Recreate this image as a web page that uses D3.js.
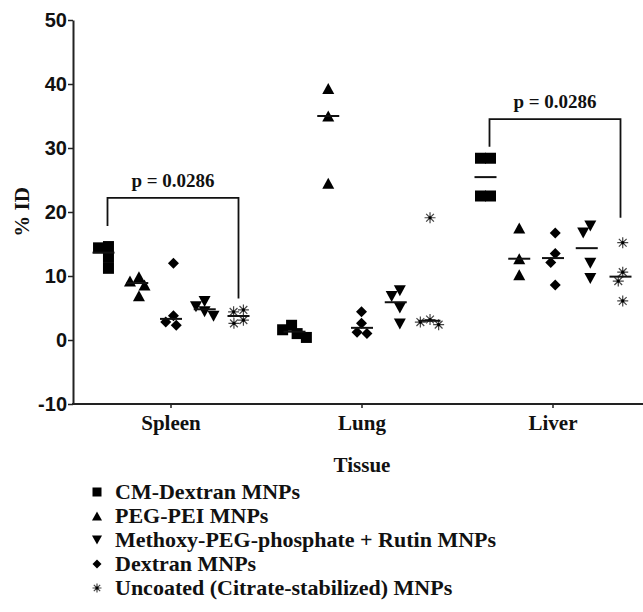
<!DOCTYPE html>
<html>
<head>
<meta charset="utf-8">
<script src="https://cdn.jsdelivr.net/npm/d3@7"></script>
<style>
    body { margin: 0; background: #fff; }
</style>
</head>
<body>
<div id="chart"></div>
<script>
// Tissues on the x axis and the five particle series (order inside each tissue group)
const tissues = ["Spleen", "Lung", "Liver"];
const seriesNames = [
    "CM-Dextran MNPs",
    "PEG-PEI MNPs",
    "Dextran MNPs",
    "Methoxy-PEG-phosphate + Rutin MNPs",
    "Uncoated (Citrate-stabilized) MNPs"
];
// legend lists them in another order
const legendOrder = [
    "CM-Dextran MNPs",
    "PEG-PEI MNPs",
    "Methoxy-PEG-phosphate + Rutin MNPs",
    "Dextran MNPs",
    "Uncoated (Citrate-stabilized) MNPs"
];
const seriesShapes = ["square", "triangle", "diamond", "triangleDown", "star"];

// % ID per animal, one array per tissue: [Spleen, Lung, Liver]
const cmDextran = [[14.6, 14.4, 12.9, 11.2], [2.3, 1.6, 1.0, 0.4], [28.4, 28.4, 22.5, 22.5]];
const pegPei = [[9.9, 9.2, 8.6, 6.9], [39.3, 35.0, 24.5], [17.5, 12.7, 10.2]];
const dextran = [[12.0, 3.8, 2.8, 2.3], [4.4, 2.6, 1.2, 1.0], [16.7, 13.5, 12.1, 8.6]];
const methoxyRutin = [[6.0, 5.2, 4.4, 3.7], [7.7, 6.8, 5.0, 2.5], [17.8, 16.7, 12.0, 9.6]];
const uncoated = [[4.7, 4.4, 3.1, 2.6], [19.1, 3.2, 2.8, 2.4], [15.2, 10.6, 9.2, 6.1]];
const seriesValues = [cmDextran, pegPei, dextran, methoxyRutin, uncoated];

const yTicks = [-10, 0, 10, 20, 30, 40, 50];

// significance brackets (values in % ID units)
const bracketTissues = ["Spleen", "Liver"];
const bracketTop = [22.2, 34.5];
const bracketLeftEnd = [17.8, 30.2];
const bracketRightEnd = [6.5, 19.1];
const bracketLabels = ["p = 0.0286", "p = 0.0286"];

const width = 643;
const height = 612;
const serif = "'Liberation Serif', 'Times New Roman', serif";
const sans = "'Liberation Sans', Arial, sans-serif";

const svg = d3.select("#chart")
    .append("svg")
    .attr("width", width)
    .attr("height", height);

const y = d3.scaleLinear().domain([-10, 50]).range([404, 20]);
const x = d3.scalePoint().domain(tissues).range([75, 648]).padding(0.5);
const xSeries = d3.scalePoint().domain(seriesNames).range([-67, 68]);

// Y axis (plain hyphen for the negative tick, as in the original)
const yAxis = svg.append("g")
    .attr("transform", "translate(73,0)")
    .call(d3.axisLeft(y).tickValues(yTicks).tickFormat(d => String(d))
        .tickSize(5).tickSizeOuter(0).tickPadding(1));
yAxis.select(".domain").attr("stroke", "#222").attr("stroke-width", 2);
yAxis.selectAll(".tick line").attr("stroke", "#222").attr("stroke-width", 1.5);
yAxis.selectAll("text")
    .style("font-family", sans)
    .style("font-weight", "bold")
    .style("font-size", "20px")
    .attr("fill", "#111");

// X axis
const xAxis = svg.append("g")
    .attr("transform", "translate(0,404)")
    .call(d3.axisBottom(x).tickSize(4).tickPadding(7));
xAxis.select(".domain").remove();
xAxis.append("line")
    .attr("x1", 72).attr("x2", width)
    .attr("stroke", "#222").attr("stroke-width", 2);
xAxis.selectAll(".tick line").attr("stroke", "#222").attr("stroke-width", 1.5);
xAxis.selectAll("text")
    .style("font-family", serif)
    .style("font-weight", "bold")
    .style("font-size", "21px")
    .attr("fill", "#111");

// axis titles
svg.append("text")
    .attr("x", 362)
    .attr("y", 472)
    .attr("text-anchor", "middle")
    .style("font-family", serif)
    .style("font-weight", "bold")
    .style("font-size", "21px")
    .attr("fill", "#111")
    .text("Tissue");

svg.append("text")
    .attr("transform", "translate(29,212) rotate(-90)")
    .attr("text-anchor", "middle")
    .style("font-family", serif)
    .style("font-weight", "bold")
    .style("font-size", "21px")
    .attr("fill", "#111")
    .text("% ID");

// marker drawing
function drawMarker(g, shape, s) {
    const h = s / 2;
    if (shape === "square") {
        g.append("rect").attr("x", -h).attr("y", -h).attr("width", s).attr("height", s).attr("fill", "#000");
    } else if (shape === "triangle") {
        g.append("path").attr("d", `M0,${-h}L${h + 0.5},${h}L${-h - 0.5},${h}Z`).attr("fill", "#000");
    } else if (shape === "triangleDown") {
        g.append("path").attr("d", `M0,${h}L${h + 0.5},${-h}L${-h - 0.5},${-h}Z`).attr("fill", "#000");
    } else if (shape === "diamond") {
        g.append("path").attr("d", `M0,${-h}L${h},0L0,${h}L${-h},0Z`).attr("fill", "#000");
    } else {
        const r = h;
        const d = r * Math.SQRT1_2;
        g.append("path")
            .attr("d", `M${-r},0L${r},0M0,${-r}L0,${r}M${-d},${-d}L${d},${d}M${-d},${d}L${d},${-d}`)
            .attr("stroke", "#444").attr("stroke-width", 1.2).attr("fill", "none");
        g.append("circle").attr("r", 1.6).attr("fill", "#000");
    }
}

// simple beeswarm so overlapping points sit side by side, then centred on the group
function swarm(values, diam) {
    const placed = [];
    const order = values.map((v, i) => i).sort((a, b) => values[b] - values[a]);
    const offsets = new Array(values.length).fill(0);
    order.forEach(i => {
        const py = y(values[i]);
        const cands = [0];
        placed.forEach(p => {
            const dy = Math.abs(p.y - py);
            if (dy < diam) {
                const dx = Math.sqrt(diam * diam - dy * dy) + 0.01;
                cands.push(p.x - dx, p.x + dx);
            }
        });
        cands.sort((a, b) => Math.abs(a) - Math.abs(b) || a - b);
        const ok = cands.find(cx => placed.every(p => {
            const dx = p.x - cx, dy = p.y - py;
            return dx * dx + dy * dy >= diam * diam - 0.001;
        }));
        offsets[i] = ok;
        placed.push({ x: ok, y: py });
    });
    const mid = (d3.min(offsets) + d3.max(offsets)) / 2;
    return offsets.map(o => o - mid);
}

const markerSize = 11;
const plot = svg.append("g");

seriesNames.forEach((name, si) => {
    tissues.forEach((tissue, ti) => {
        const vals = seriesValues[si][ti];
        const cx = x(tissue) + xSeries(name);
        const offs = swarm(vals, 10);

        vals.forEach((v, k) => {
            const g = plot.append("g")
                .attr("transform", `translate(${cx + offs[k]},${y(v)})`);
            drawMarker(g, seriesShapes[si], markerSize);
        });

        // median line
        const med = d3.median(vals);
        plot.append("line")
            .attr("x1", cx - 11).attr("x2", cx + 11)
            .attr("y1", y(med)).attr("y2", y(med))
            .attr("stroke", "#111").attr("stroke-width", 2);
    });
});

// significance brackets
bracketTissues.forEach((tissue, i) => {
    const x1 = x(tissue) + xSeries(seriesNames[0]) + 4;
    const x2 = x(tissue) + xSeries(seriesNames[4]);
    svg.append("path")
        .attr("d", `M${x1},${y(bracketLeftEnd[i])}V${y(bracketTop[i])}H${x2}V${y(bracketRightEnd[i])}`)
        .attr("fill", "none")
        .attr("stroke", "#111")
        .attr("stroke-width", 1.8);
    svg.append("text")
        .attr("x", (x1 + x2) / 2)
        .attr("y", y(bracketTop[i]) - 11)
        .attr("text-anchor", "middle")
        .style("font-family", serif)
        .style("font-weight", "bold")
        .style("font-size", "19px")
        .attr("fill", "#111")
        .text(bracketLabels[i]);
});

// legend
const legend = svg.append("g").attr("transform", "translate(97,492)");
legendOrder.forEach((name, i) => {
    const row = legend.append("g").attr("transform", `translate(0,${i * 24})`);
    const mk = row.append("g");
    drawMarker(mk, seriesShapes[seriesNames.indexOf(name)], 9);
    row.append("text")
        .attr("x", 18)
        .attr("y", 7)
        .style("font-family", serif)
        .style("font-weight", "bold")
        .style("font-size", "22px")
        .attr("fill", "#111")
        .text(name);
});
</script>
</body>
</html>
